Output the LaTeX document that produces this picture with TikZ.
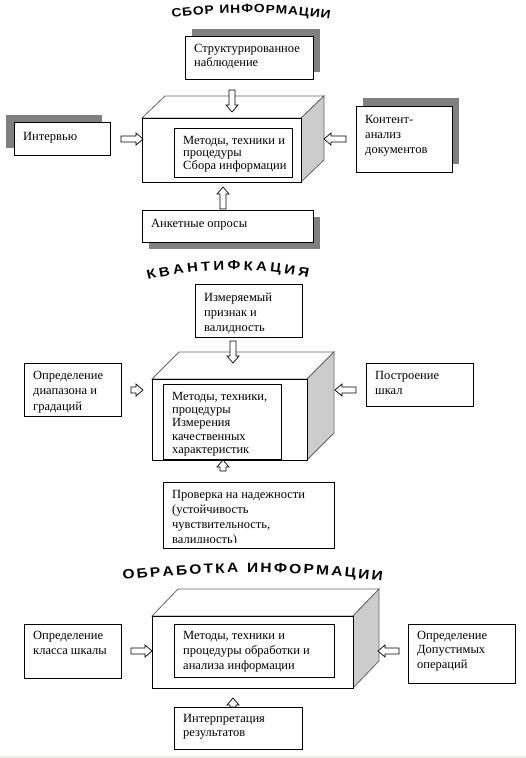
\documentclass[tikz,border=0pt]{standalone}
\usepackage{fontspec}
\setmainfont{Liberation Serif}
\newfontfamily\titlefont{Liberation Sans}[FakeStretch=1.15]
\usetikzlibrary{calc,decorations.text}
\definecolor{shadowc}{HTML}{808080}
\definecolor{sidec}{HTML}{CCCCCC}
\definecolor{stripc}{HTML}{EFEDE9}
\newcommand\tfA{\titlefont\bfseries\fontsize{12}{14}\selectfont}
\newcommand\tfC{\titlefont\bfseries\fontsize{13}{15}\selectfont}
\newcommand\tfB{\titlefont\bfseries\fontsize{13.5}{15}\selectfont}
\tikzset{
  boxn/.style={draw=black, line width=0.8pt, fill=white, inner sep=0pt, anchor=north west},
  txt/.style={inner sep=0pt, anchor=north west, align=left},
  front/.style={draw=black!40, line width=1.3pt, fill=white, inner sep=0pt, anchor=north west,
    postaction={draw=black, line width=0.5pt}},
  topface/.style={draw=black!60, line width=0.8pt, fill=white, line join=miter},
  sideface/.style={draw=black!60, line width=0.8pt, fill=sidec, line join=miter},
  shadow/.style={preaction={fill=shadowc, draw=none, transform canvas={shift={#1}}}},
  barrow/.style={draw=black, line width=0.7pt, fill=white, line join=miter,
    to path={($(\tikztostart)!3pt!90:(\tikztotarget)$)
      -- ($($(\tikztotarget)!7pt!(\tikztostart)$)!3pt!90:(\tikztotarget)$)
      -- ($($(\tikztotarget)!7pt!(\tikztostart)$)!6pt!90:(\tikztotarget)$)
      -- (\tikztotarget)
      -- ($($(\tikztotarget)!7pt!(\tikztostart)$)!6pt!-90:(\tikztotarget)$)
      -- ($($(\tikztotarget)!7pt!(\tikztostart)$)!3pt!-90:(\tikztotarget)$)
      -- ($(\tikztostart)!3pt!-90:(\tikztotarget)$) -- cycle}},
  titlepath/.style={decorate, decoration={text along path, text align=fit to path, text={#1}}}
}
% [box opts]{name}{x}{y}{w}{h}{first baseline offset}{baselineskip}{text}
\newcommand\mkbox[9][]{%
  \node[boxn,#1, minimum width=#5pt, minimum height=#6pt] (#2) at (#3,#4) {};
  \node[txt, font=\fontsize{12.5}{#8}\selectfont] (#2-t) at ($(#2.north west)+(9,#7-10)$) {\rule{0pt}{10pt}#9};
}
% {name}{x1}{y1}{x2}{y2}{dx}{dy}
\newcommand\mkcube[7]{%
  \draw[topface] (#2,#3) -- (#2+#6,#3-#7) -- (#4+#6,#3-#7) -- (#4,#3) -- cycle;
  \draw[sideface] (#4,#3) -- (#4+#6,#3-#7) -- (#4+#6,#5-#7) -- (#4,#5) -- cycle;
  \node[front, minimum width={(#4-#2)*1pt}, minimum height={(#5-#3)*1pt}] (#1) at (#2,#3) {};
}
\begin{document}
\begin{tikzpicture}[x=1pt, y=-1pt]
\useasboundingbox (0,0) rectangle (526,758);
\fill[white] (0,0) rectangle (526,758);
\fill[stripc] (0,756) rectangle (526,758);

% ---------------- Section 1 ----------------
\path[titlepath={|\tfA|СБОР ИНФОРМАЦИИ}] (172,18) .. controls (225,11) and (277,11) .. (330,19);
\mkcube{c1}{142}{118}{301}{182}{23}{22}
\mkbox{in1}{174}{128}{118}{49}{16}{12.7}{Методы, техники и\\процедуры\\Сбора информации}
\mkbox[shadow={(7pt,7pt)}]{obs}{185}{36}{128}{43}{16}{14.5}{Структурированное\\наблюдение}
\mkbox[shadow={(-8pt,7pt)}]{int}{14}{122}{96}{33}{18}{15}{Интервью}
\mkbox[shadow={(7pt,8pt)}]{cont}{356}{106}{96}{66}{17}{15.3}{Контент-\\анализ\\документов}
\mkbox[shadow={(7pt,-7pt)}]{ank}{142}{210}{171}{32}{17}{15}{Анкетные опросы}
\coordinate (a1ts) at (232,90);  \coordinate (a1te) at (232,112);
\coordinate (a1ls) at (121,139); \coordinate (a1le) at (143,139);
\coordinate (a1rs) at (346,139); \coordinate (a1re) at (324,139);
\coordinate (a1bs) at (223,209); \coordinate (a1be) at (223,187);
\draw[barrow] (a1ts) to (a1te);
\draw[barrow] (a1ls) to (a1le);
\draw[barrow] (a1rs) to (a1re);
\draw[barrow] (a1bs) to (a1be);

% ---------------- Section 2 ----------------
\path[titlepath={|\tfC|КВАНТИФКАЦИЯ}] (148,280) .. controls (200,267) and (256,267) .. (308,278);
\mkcube{c2}{152}{379}{307}{460}{27}{27}
\mkbox{in2}{163}{384}{118}{75}{16}{13.3}{Методы, техники,\\процедуры\\Измерения\\качественных\\характеристик}
\mkbox{meas}{195}{284}{107}{53}{17}{15}{Измеряемый\\признак и\\валидность}
\mkbox{rng}{24}{363}{97}{53}{16}{15.5}{Определение\\диапазона и\\градаций}
\mkbox{scl}{366}{363}{107}{43}{16}{15.5}{Построение\\шкал}
\node[boxn, minimum width=171pt, minimum height=66pt] (chk) at (163,482) {};
\begin{scope}
  \clip ($(chk.north west)+(1,1)$) rectangle ($(chk.south east)+(-1,-6)$);
  \node[txt, font=\fontsize{12.5}{15}\selectfont] (chk-t) at ($(chk.north west)+(9,6)$)
    {\rule{0pt}{10pt}Проверка на надежности\\(устойчивость\\чувствительность,\\валидность)};
\end{scope}
\coordinate (a2ts) at (233,341); \coordinate (a2te) at (233,363);
\coordinate (a2ls) at (131,390); \coordinate (a2le) at (143,390);
\coordinate (a2rs) at (356,390); \coordinate (a2re) at (335,390);
\coordinate (a2bs) at (223,471); \coordinate (a2be) at (223,460);
\draw[barrow] (a2ts) to (a2te);
\draw[barrow] (a2ls) to (a2le);
\draw[barrow] (a2rs) to (a2re);
\draw[barrow] (a2bs) to (a2be);

% ---------------- Section 3 ----------------
\path[titlepath={|\tfB|ОБРАБОТКА ИНФОРМАЦИИ}] (123,580) .. controls (208,570) and (296,570) .. (382,581);
\mkcube{c3}{152}{616}{353}{688}{26}{27}
\mkbox{in3}{174}{624}{160}{53}{15}{15.3}{Методы, техники и\\процедуры обработки и\\анализа информации}
\mkbox{cls}{24}{624}{97}{54}{15}{15}{Определение\\класса шкалы}
\mkbox{ops}{408}{624}{107}{59}{15}{14.5}{Определение\\Допустимых\\операций}
\mkbox{intp}{174}{707}{128}{42}{15}{14}{Интерпретация\\результатов}
\coordinate (a3ls) at (131,651); \coordinate (a3le) at (152,651);
\coordinate (a3rs) at (399,651); \coordinate (a3re) at (378,651);
\coordinate (a3bs) at (233,707); \coordinate (a3be) at (233,698);
\draw[barrow] (a3ls) to (a3le);
\draw[barrow] (a3rs) to (a3re);
\draw[barrow] (a3bs) to (a3be);
\end{tikzpicture}
\end{document}
